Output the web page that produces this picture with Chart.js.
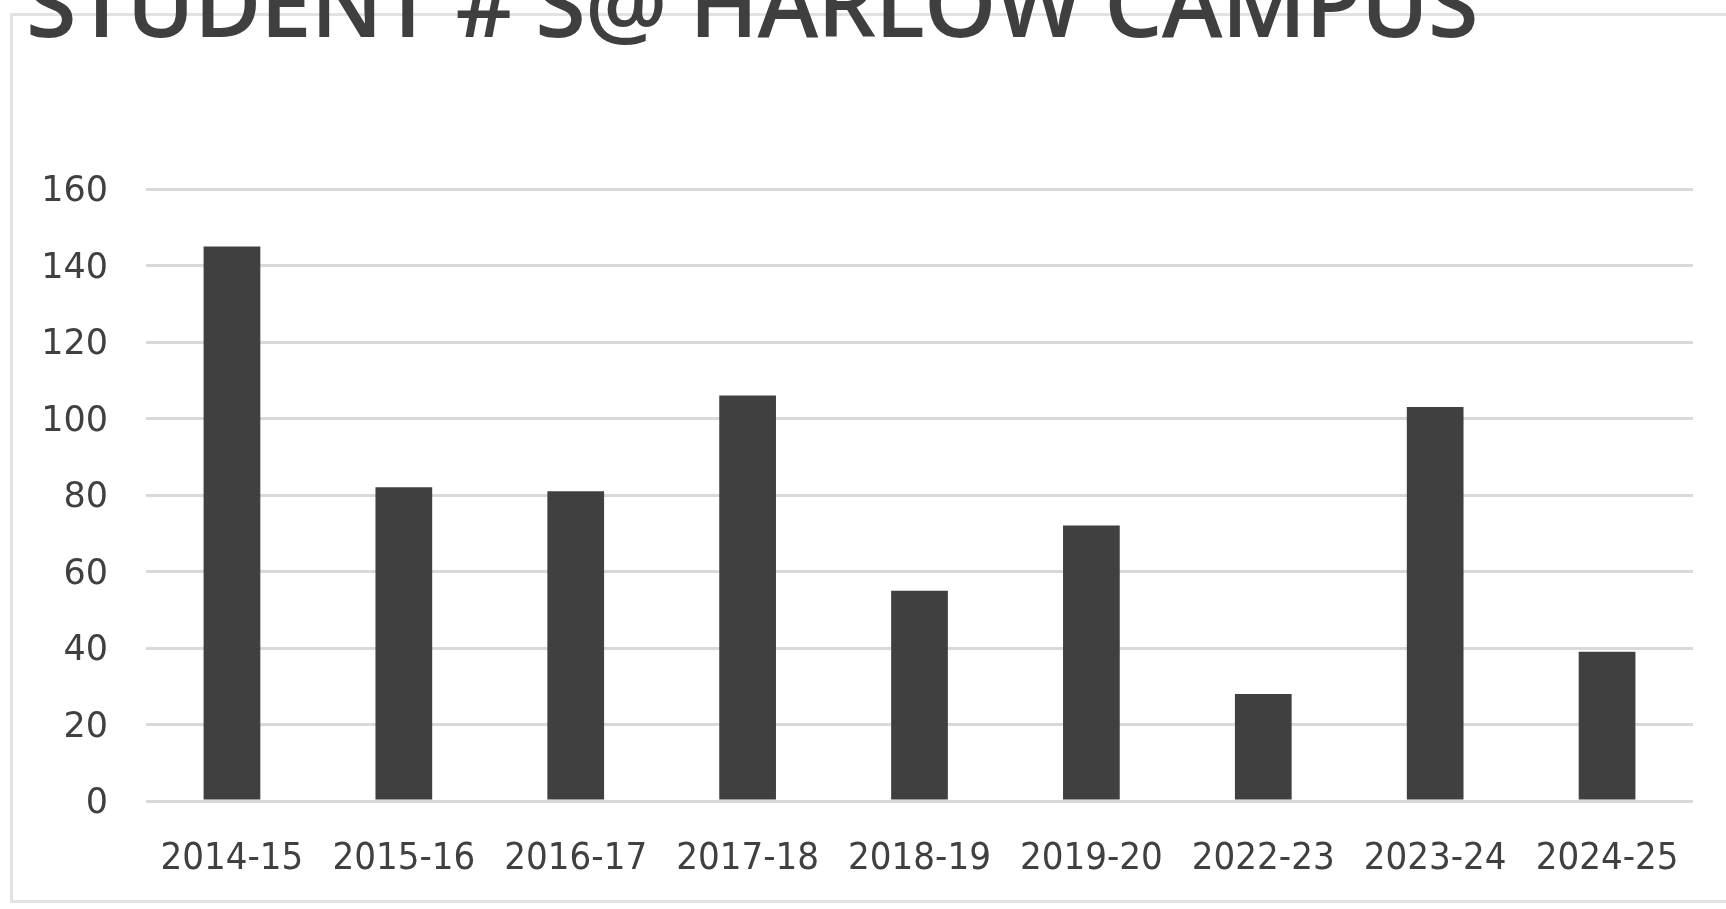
<!DOCTYPE html>
<html>
<head>
<meta charset="utf-8">
<script src="https://cdn.jsdelivr.net/npm/chart.js@4"></script>
<style>
  html, body { margin: 0; padding: 0; background: #fff; overflow: hidden; }
  #frame {
    position: absolute; left: 10px; top: 13px; width: 1730px; height: 890px;
    border: 3px solid #e2e2e2; box-sizing: border-box;
  }
  #title {
    position: absolute; left: 26px; top: -44px; margin: 0;
    font-family: "Open Sans", sans-serif; font-weight: 600; font-size: 92px;
    line-height: 1; color: #3f3f3f; white-space: nowrap; letter-spacing: -1px;
  }
  #wrap { position: absolute; left: 0; top: 0; width: 1726px; height: 909px; }
</style>
</head>
<body>
<div id="frame"></div>
<div id="wrap"><canvas id="myChart"></canvas></div>
<h1 id="title">STUDENT #'S@ HARLOW CAMPUS</h1>
<script>
// school years and number of students
var years = ["2014-15", "2015-16", "2016-17", "2017-18", "2018-19", "2019-20", "2022-23", "2023-24", "2024-25"];
var students = [145, 82, 81, 106, 55, 72, 28, 103, 39];
var yTicks = [0, 20, 40, 60, 80, 100, 120, 140, 160];

function drawChart() {

  var ctx = document.getElementById('myChart').getContext('2d');
  var chart = new Chart(ctx, {
    type: 'bar',
    data: {
      labels: years,
      datasets: [{
        label: 'Students',
        backgroundColor: '#404040',
        data: students,
        categoryPercentage: 1,
        barPercentage: 0.33
      }]
    },
    options: {
      responsive: true,
      maintainAspectRatio: false,
      animation: false,
      layout: { padding: { top: 189, right: 33, left: 0, bottom: 0 } },
      plugins: {
        legend: { display: false },
        tooltip: { enabled: false }
      },
      scales: {
        x: {
          grid: { display: false },
          border: { display: false },
          ticks: {
            color: '#404040',
            padding: 27,
            maxRotation: 0,
            autoSkip: false,
            font: { family: '"DejaVu Sans Condensed", sans-serif', size: 38 }
          },
          afterFit: function(scale) { scale.height = 108; }
        },
        y: {
          min: 0,
          max: 160,
          afterBuildTicks: function(scale) {
            scale.ticks = yTicks.map(function(v) { return { value: v }; });
          },
          grid: { color: '#d9d9d9', lineWidth: 3, drawTicks: false },
          border: { display: false },
          ticks: {
            color: '#404040',
            padding: 38,
            labelOffset: 3,
            font: { family: '"DejaVu Sans", sans-serif', size: 35 }
          },
          afterFit: function(scale) { scale.width = 146; }
        }
      }
    }
  });
}

drawChart();
</script>
</body>
</html>
